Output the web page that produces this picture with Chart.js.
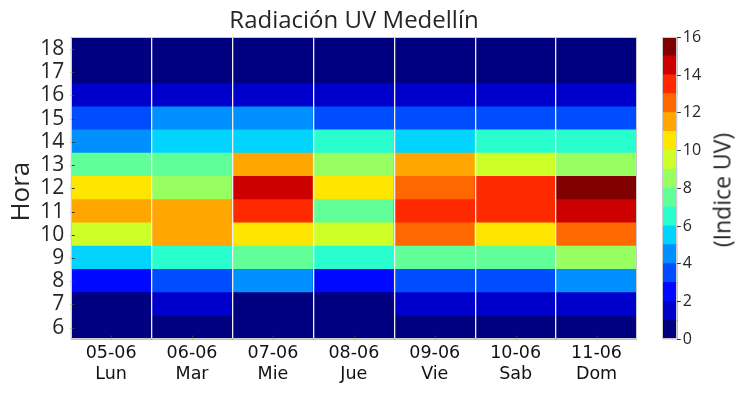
<!DOCTYPE html>
<html>
<head>
<meta charset="utf-8">
<script src="https://cdn.jsdelivr.net/npm/chart.js@4/dist/chart.umd.min.js"></script>
<style>
  html, body { margin: 0; padding: 0; background: #ffffff; }
  #wrap { position: relative; width: 743px; height: 395px; overflow: hidden; }
  #main { position: absolute; left: 0; top: 0; }
  #cbar { position: absolute; left: 640px; top: 0; }
  #title {
    position: absolute; left: 354px; top: 5px; transform: translateX(-50%);
    font-family: "Open Sans", sans-serif; font-size: 24px; line-height: 1.2; color: #262626;
    white-space: nowrap;
  }
  #cblabel {
    position: absolute; left: 722px; top: 190px;
    transform: translate(-50%, -50%) rotate(-90deg);
    font-family: "Open Sans", sans-serif; font-size: 23px; color: #262626;
    white-space: nowrap; line-height: 1;
  }
</style>
</head>
<body>
<div id="wrap">
  <canvas id="main" width="743" height="395"></canvas>
  <canvas id="cbar" width="103" height="395"></canvas>
  <div id="title">Radiación UV Medellín</div>
  <div id="cblabel">(Indice UV)</div>
</div>
<script>
// ---- data ----
const DAYS = ['05-06', '06-06', '07-06', '08-06', '09-06', '10-06', '11-06'];
const WEEKDAYS = ['Lun', 'Mar', 'Mie', 'Jue', 'Vie', 'Sab', 'Dom'];
const HOURS = [6, 7, 8, 9, 10, 11, 12, 13, 14, 15, 16, 17, 18];
// UV index per day, hours 6..18
const UV_LUN = [0.0, 0.3, 2.6, 5.4, 9.5, 11.2, 10.6, 7.3, 4.5, 3.2, 1.4, 0.2, 0.0];
const UV_MAR = [0.0, 1.1, 3.4, 6.5, 11.3, 11.8, 8.6, 7.2, 5.3, 4.1, 1.5, 0.3, 0.0];
const UV_MIE = [0.0, 0.6, 4.2, 7.6, 10.4, 13.5, 14.3, 11.6, 5.8, 4.4, 1.2, 0.1, 0.0];
const UV_JUE = [0.0, 0.4, 2.3, 6.2, 9.7, 7.8, 10.5, 8.4, 6.1, 3.6, 1.3, 0.2, 0.0];
const UV_VIE = [0.1, 1.2, 3.5, 7.4, 12.6, 13.2, 12.4, 11.1, 5.7, 3.8, 1.6, 0.3, 0.0];
const UV_SAB = [0.1, 1.3, 3.3, 7.7, 10.8, 13.4, 13.9, 9.3, 6.4, 3.5, 1.1, 0.2, 0.0];
const UV_DOM = [0.1, 1.4, 4.6, 8.2, 12.3, 14.6, 15.4, 8.8, 6.7, 3.9, 1.7, 0.2, 0.0];
const UV_MIN = 0;
const UV_MAX = 16;
const CB_TICKS = [0, 2, 4, 6, 8, 10, 12, 14, 16];

// ---- style ----
const JET16 = ['#000080', '#0000cd', '#0008ff', '#004cff', '#0090ff', '#00d4ff', '#29ffce', '#60ff97',
               '#97ff60', '#ceff29', '#ffe600', '#ffa700', '#ff6800', '#ff2900', '#cd0000', '#800000'];
const UV_BY_DAY = [UV_LUN, UV_MAR, UV_MIE, UV_JUE, UV_VIE, UV_SAB, UV_DOM];
function colorFor(v) {
  const k = Math.max(0, Math.min(JET16.length - 1, Math.floor((v - UV_MIN) / (UV_MAX - UV_MIN) * JET16.length)));
  return JET16[k];
}
const TXT = '#262626';

const frame = {
  id: 'frame',
  afterDraw(chart) {
    const a = chart.chartArea, c = chart.ctx;
    c.save();
    c.strokeStyle = '#cccccc';
    c.lineWidth = 1;
    c.strokeRect(Math.round(a.left) + 0.5, Math.round(a.top) + 0.5,
                 Math.round(a.right - a.left) - 1, Math.round(a.bottom - a.top) - 1);
    c.restore();
  }
};

// small inward tick marks on the heatmap (positions from the chart's own scales)
const innerTicks = {
  id: 'innerTicks',
  afterDraw(chart) {
    const a = chart.chartArea, c = chart.ctx;
    const xs = chart.scales.x, ys = chart.scales.y;
    c.save();
    c.strokeStyle = '#333333';
    c.lineWidth = 1;
    c.beginPath();
    ys.ticks.forEach(t => {
      const y = Math.round(ys.getPixelForValue(t.value)) + 0.5;
      c.moveTo(a.left, y); c.lineTo(a.left + 4, y);
    });
    xs.ticks.forEach((t, i) => {
      const x = Math.round(xs.getPixelForTick(i)) + 0.5;
      c.moveTo(x, a.bottom); c.lineTo(x, a.bottom - 4);
    });
    c.stroke();
    c.restore();
  }
};

// ---- main heatmap ----
const datasets = HOURS.map((h, i) => ({
  label: String(h),
  data: DAYS.map(() => [h - 0.5, h + 0.5]),
  backgroundColor: UV_BY_DAY.map(arr => colorFor(arr[i])),
  borderWidth: 0,
  inflateAmount: 0.6,
  grouped: false,
  barPercentage: 1,
  categoryPercentage: 1
}));

new Chart(document.getElementById('main'), {
  type: 'bar',
  data: { labels: DAYS.map((d, j) => [d, WEEKDAYS[j]]), datasets },
  options: {
    responsive: false,
    animation: false,
    layout: { padding: { left: 0, right: 106, top: 37.3, bottom: 0 } },
    plugins: {
      legend: { display: false },
      tooltip: { enabled: false },
      title: { display: false }
    },
    scales: {
      x: {
        offset: true,
        grid: { offset: true, z: 1, color: '#eeeeee', lineWidth: 1.3, drawTicks: false },
        border: { display: false },
        ticks: { color: '#111111', padding: 3, font: { family: 'DejaVu Sans', size: 17.5, lineHeight: 1.23 } },
        afterFit(s) { s.height = 55.7; }
      },
      y: {
        min: 5.5,
        max: 18.5,
        grid: { display: false, drawTicks: false },
        border: { display: false },
        afterBuildTicks(s) { s.ticks = HOURS.map(h => ({ value: h })); },
        ticks: { color: TXT, padding: 6.5, autoSkip: false, font: { family: 'Open Sans', size: 21 } },
        title: {
          display: true, text: 'Hora ', color: TXT,
          font: { family: 'Open Sans', size: 26 }, padding: { top: 6, bottom: 0 }
        },
        afterFit(s) { s.width = 70.7; }
      }
    }
  },
  plugins: [innerTicks, frame]
});

// ---- colorbar ----
const cbSets = JET16.map((col, k) => ({
  data: [[UV_MIN + k * (UV_MAX - UV_MIN) / JET16.length, UV_MIN + (k + 1) * (UV_MAX - UV_MIN) / JET16.length]],
  backgroundColor: col,
  borderWidth: 0,
  inflateAmount: 0.6,
  grouped: false,
  barPercentage: 1,
  categoryPercentage: 1
}));

new Chart(document.getElementById('cbar'), {
  type: 'bar',
  data: { labels: ['UV'], datasets: cbSets },
  options: {
    responsive: false,
    animation: false,
    layout: { padding: { left: 22.3, right: 0, top: 37.3, bottom: 55.7 } },
    plugins: { legend: { display: false }, tooltip: { enabled: false } },
    scales: {
      x: { display: false },
      y: {
        position: 'right',
        min: UV_MIN,
        max: UV_MAX,
        afterBuildTicks(s) { s.ticks = CB_TICKS.map(v => ({ value: v })); },
        grid: { drawOnChartArea: false, drawTicks: true, tickLength: 3.5, tickColor: '#333333', tickWidth: 1 },
        border: { display: false },
        ticks: { color: TXT, padding: 2, autoSkip: false, font: { family: 'Open Sans', size: 16 } },
        afterFit(s) { s.width = 65.7; }
      }
    }
  },
  plugins: [frame]
});
</script>
</body>
</html>
